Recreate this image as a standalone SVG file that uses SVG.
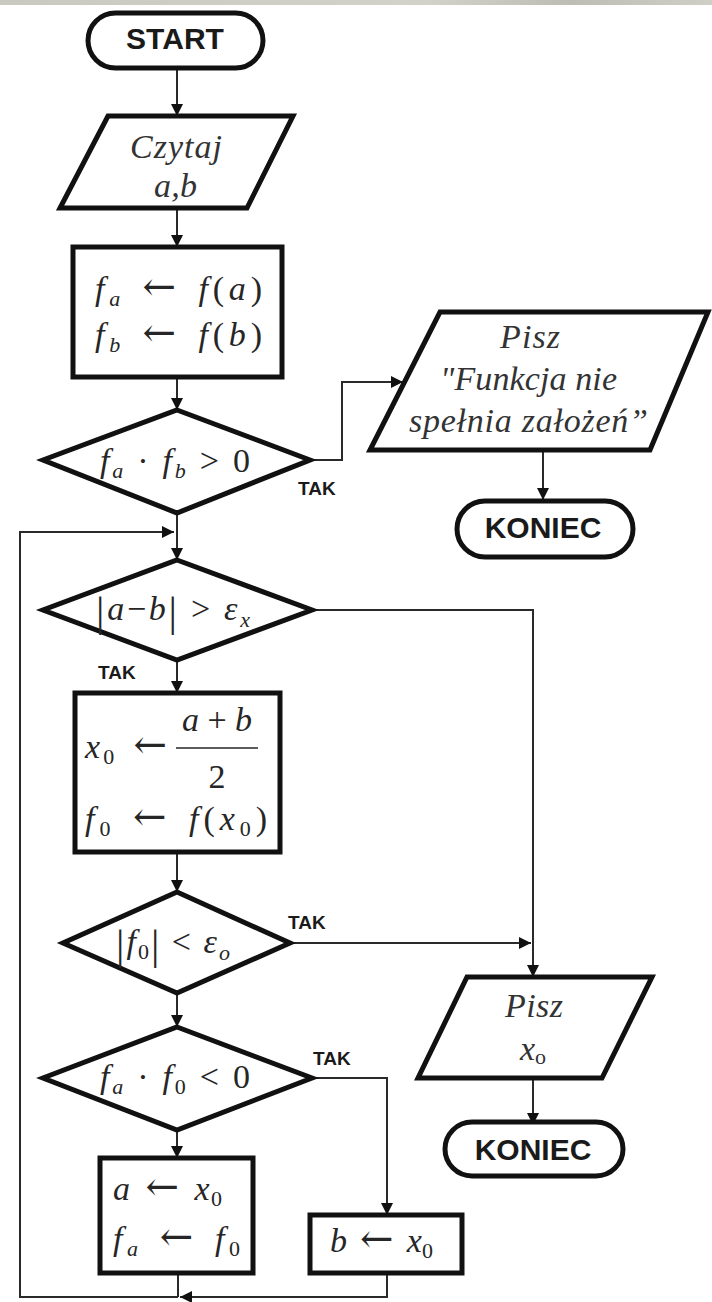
<svg xmlns="http://www.w3.org/2000/svg" width="712" height="1302" viewBox="0 0 712 1302">
<defs>
<linearGradient id="band" x1="0" y1="0" x2="1" y2="0">
<stop offset="0" stop-color="#c9c9bf"/><stop offset="0.6" stop-color="#d2d2c8"/><stop offset="0.8" stop-color="#bdbdb3"/><stop offset="1" stop-color="#cfcfc6"/>
</linearGradient>
<marker id="ah" markerUnits="userSpaceOnUse" markerWidth="13" markerHeight="13" refX="12" refY="6" orient="auto">
<path d="M0,0 L12,6 L0,12 z" fill="#111"/>
</marker>
</defs>
<style>
.shape{fill:#fff;stroke:#111;stroke-width:5;stroke-linejoin:miter}
.term{fill:#fff;stroke:#111;stroke-width:5}
.lbl{font-family:"Liberation Sans",Arial,sans-serif;font-weight:bold;fill:#1a1a1a;text-anchor:middle}
.tak{font-family:"Liberation Sans",Arial,sans-serif;font-weight:bold;font-size:19px;fill:#1a1a1a}
.m{font-family:"Liberation Serif","Times New Roman",serif;font-style:italic;font-size:34px;fill:#262626}
.io{font-family:"Liberation Serif","Times New Roman",serif;font-style:italic;font-size:34px;fill:#333}
.up{font-style:normal}
.ar{font-family:"DejaVu Serif",serif;font-style:normal;font-size:40px}
.sb{font-size:22px}
.conn path{fill:none;stroke:#2a2a2a;stroke-width:2}
</style>
<rect x="0" y="0" width="712" height="5" fill="url(#band)"/>

<g id="connectors" class="conn">
<path d="M177,68 V116" marker-end="url(#ah)"/>
<path d="M177,208 V247" marker-end="url(#ah)"/>
<path d="M177,377 V410" marker-end="url(#ah)"/>
<path d="M310,460 H342 V382 H403" marker-end="url(#ah)"/>
<path d="M543,450 V500" marker-end="url(#ah)"/>
<path d="M177,513 V560" marker-end="url(#ah)"/>
<path d="M178,1297 H20 V532 H174" marker-end="url(#ah)"/>
<path d="M312,610 H533 V977" marker-end="url(#ah)"/>
<path d="M177,660 V693" marker-end="url(#ah)"/>
<path d="M177,852 V892" marker-end="url(#ah)"/>
<path d="M290,943 H531" marker-end="url(#ah)"/>
<path d="M177,993 V1027" marker-end="url(#ah)"/>
<path d="M312,1078 H387 V1215" marker-end="url(#ah)"/>
<path d="M177,1130 V1158" marker-end="url(#ah)"/>
<path d="M533,1078 V1125" marker-end="url(#ah)"/>
<path d="M178,1273 V1297"/>
<path d="M387,1273 V1297 H180" marker-end="url(#ah)"/>
</g>

<g id="start">
<rect class="term" x="88" y="13" width="175" height="55" rx="27.5"/>
<text class="lbl" x="175" y="49" font-size="30">START</text>
</g>

<g id="read">
<polygon class="shape" points="108,116 293,116 247,208 60,208"/>
<text class="io" x="130" y="158" font-size="36" textLength="92" lengthAdjust="spacing">Czytaj</text>
<text class="io" x="154" y="197" font-size="36" textLength="43" lengthAdjust="spacing">a,b</text>
</g>

<g id="init">
<rect class="shape" x="73" y="247" width="209" height="130"/>
<text class="m" x="95" y="300" textLength="167" lengthAdjust="spacing">f<tspan class="sb" dy="6">a</tspan><tspan class="ar" dy="-6"> ← </tspan>f<tspan class="up">(</tspan>a<tspan class="up">)</tspan></text>
<text class="m" x="95" y="346" textLength="167" lengthAdjust="spacing">f<tspan class="sb" dy="6">b</tspan><tspan class="ar" dy="-6"> ← </tspan>f<tspan class="up">(</tspan>b<tspan class="up">)</tspan></text>
</g>

<g id="check1">
<polygon class="shape" points="177,410 310,460 177,513 43,460"/>
<text class="m" x="100" y="472" textLength="150" lengthAdjust="spacing">f<tspan class="sb" dy="6">a</tspan><tspan class="up" dy="-6"> · </tspan>f<tspan class="sb" dy="6">b</tspan><tspan class="up" dy="-6"> &gt; 0</tspan></text>
<text class="tak" x="298" y="495">TAK</text>
</g>

<g id="err">
<polygon class="shape" points="440,312 708,312 650,450 370,450"/>
<text class="io" x="500" y="348" textLength="60" lengthAdjust="spacing">Pisz</text>
<text class="io" x="440" y="390" textLength="177" lengthAdjust="spacing">"Funkcja nie</text>
<text class="io" x="409" y="432" textLength="239" lengthAdjust="spacing">spełnia założeń”</text>
</g>

<g id="end1">
<rect class="term" x="457" y="501" width="176" height="56" rx="28"/>
<text class="lbl" x="543" y="538" font-size="30">KONIEC</text>
</g>

<g id="check2">
<polygon class="shape" points="177,560 312,610 177,660 43,610"/>
<text class="m" x="96" y="620" textLength="154" lengthAdjust="spacing"><tspan class="up" font-size="42" dy="6">|</tspan><tspan dy="-6">a</tspan><tspan class="up">−</tspan>b<tspan class="up" font-size="42" dy="6">|</tspan><tspan class="up" dy="-6"> &gt; </tspan>ε<tspan class="sb" dy="7">x</tspan></text>
<text class="tak" x="98" y="679">TAK</text>
</g>

<g id="mid">
<rect class="shape" x="75" y="693" width="205" height="159"/>
<text class="m" x="85" y="758" textLength="82" lengthAdjust="spacing">x<tspan class="up sb" dy="6">0</tspan><tspan class="ar" dy="-6"> ←</tspan></text>
<line x1="176" y1="748" x2="258" y2="748" stroke="#262626" stroke-width="1.5"/>
<text class="m" x="217" y="731" text-anchor="middle">a<tspan class="up"> + </tspan>b</text>
<text class="m" x="217" y="788" text-anchor="middle"><tspan class="up">2</tspan></text>
<text class="m" x="85" y="830" textLength="182" lengthAdjust="spacing">f<tspan class="up sb" dy="6">0</tspan><tspan class="ar" dy="-6"> ← </tspan>f<tspan class="up">(</tspan>x<tspan class="up sb" dy="6">0</tspan><tspan class="up" dy="-6">)</tspan></text>
</g>

<g id="check3">
<polygon class="shape" points="177,892 290,943 177,993 63,943"/>
<text class="m" x="116" y="953" textLength="114" lengthAdjust="spacing"><tspan class="up" font-size="42" dy="6">|</tspan><tspan dy="-6">f</tspan><tspan class="up sb" dy="6">0</tspan><tspan class="up" font-size="42">|</tspan><tspan class="up" dy="-6"> &lt; </tspan>ε<tspan class="sb" dy="7">o</tspan></text>
<text class="tak" x="288" y="929">TAK</text>
</g>

<g id="out">
<polygon class="shape" points="467,977 652,977 602,1078 418,1078"/>
<text class="io" x="505" y="1017" textLength="58" lengthAdjust="spacing">Pisz</text>
<text class="io" x="520" y="1060">x<tspan class="up sb" dy="4">o</tspan></text>
</g>

<g id="end2">
<rect class="term" x="445" y="1122" width="178" height="54" rx="27"/>
<text class="lbl" x="533" y="1160" font-size="30">KONIEC</text>
</g>

<g id="check4">
<polygon class="shape" points="177,1027 312,1078 177,1130 43,1078"/>
<text class="m" x="100" y="1088" textLength="150" lengthAdjust="spacing">f<tspan class="sb" dy="6">a</tspan><tspan class="up" dy="-6"> · </tspan>f<tspan class="up sb" dy="6">0</tspan><tspan class="up" dy="-6"> &lt; 0</tspan></text>
<text class="tak" x="313" y="1065">TAK</text>
</g>

<g id="seta">
<rect class="shape" x="100" y="1158" width="153" height="115"/>
<text class="m" x="113" y="1200" textLength="109" lengthAdjust="spacing">a<tspan class="ar"> ← </tspan>x<tspan class="up sb" dy="6">0</tspan></text>
<text class="m" x="113" y="1250" textLength="127" lengthAdjust="spacing">f<tspan class="sb" dy="6">a</tspan><tspan class="ar" dy="-6"> ← </tspan>f<tspan class="up sb" dy="6">0</tspan></text>
</g>

<g id="setb">
<rect class="shape" x="310" y="1215" width="152" height="58"/>
<text class="m" x="330" y="1252" textLength="103" lengthAdjust="spacing">b<tspan class="ar"> ← </tspan>x<tspan class="up sb" dy="6">0</tspan></text>
</g>
</svg>
